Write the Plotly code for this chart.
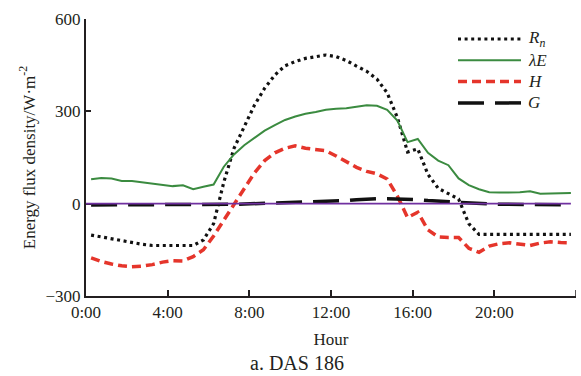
import plotly.graph_objects as go

# Half-hourly energy balance components (W·m-2), stamped at the middle of each half hour
hours = [0.25 + 0.5 * i for i in range(48)]

rn = [-102, -108, -115, -122, -128, -132, -136, -136, -136, -136, -136, -118,
      -65, 70, 180, 250, 320, 375, 418, 448, 462, 472, 478, 483,
      478, 465, 447, 430, 405, 360, 280, 168, 178, 95, 50, 33,
      15, -65, -100, -100, -100, -100, -100, -100, -100, -100, -100, -100]

le = [79, 83, 82, 74, 74, 70, 67, 63, 57, 60, 47, 55,
      62, 120, 160, 190, 215, 237, 255, 272, 283, 292, 298, 305,
      308, 310, 315, 320, 318, 305, 270, 200, 210, 165, 140, 125,
      82, 60, 47, 37, 36, 36, 37, 40, 32, 33, 35, 35]

h = [-176, -188, -196, -202, -205, -203, -198, -190, -185, -186, -172, -150,
     -105, -55, 0, 48, 100, 140, 165, 180, 188, 180, 176, 172,
     155, 135, 118, 105, 97, 80, 25, -45, -28, -85, -108, -110,
     -110, -145, -158, -138, -130, -127, -132, -136, -128, -124, -126, -127]

g = [-4, -4, -4, -4, -4, -4, -4, -4, -4, -4, -4, -4,
     -4, -3, -2, -1, 0, 0, 1, 2, 3, 4, 6, 7,
     8, 10, 13, 15, 16, 16, 15, 15, 13, 10, 8, 6,
     3, 2, 0, -1, -2, -2, -2, -3, -3, -3, -3, -4]

series_names = ["<i>R<sub>n</sub></i>", "<i>λE</i>", "<i>H</i>", "<i>G</i>"]

x_ticks = [0, 4, 8, 12, 16, 20]
x_tick_text = ["0:00", "4:00", "8:00", "12:00", "16:00", "20:00"]
x_end = 24
y_ticks = [-300, 0, 300, 600]

FONT = "Liberation Serif"
INK = "#231f20"

W, H_PX = 581, 376
M_L, M_R, M_T, M_B = 86, 5, 19, 80
PLOT_W = W - M_L - M_R
PLOT_H = H_PX - M_T - M_B


def px_x(px):
    return (px - M_L) / PLOT_W


def px_y(py):
    return (H_PX - M_B - py) / PLOT_H


styles = [
    dict(color="#111111", width=3.2, dash="3px,3.6px"),
    dict(color="#3b8b40", width=2),
    dict(color="#e5352b", width=3.5, dash="9px,5px"),
    dict(color="#111111", width=3.5, dash="26px,11px"),
]

fig = go.Figure()
for name, values, style in zip(series_names, [rn, le, h, g], styles):
    fig.add_trace(go.Scatter(x=hours, y=values, mode="lines", name=name,
                             line=style, showlegend=False))

# zero reference line
fig.add_shape(type="line", x0=0, x1=hours[-1], y0=0, y1=0, xref="x", yref="y",
              line=dict(color="#7030a0", width=1.8), layer="above")

# unlabeled closing tick at the right end of the time axis
fig.add_shape(type="line", x0=x_end, x1=x_end, y0=0, y1=6 / PLOT_H,
              xref="x", yref="paper", line=dict(color=INK, width=1.5))

# legend: line samples with labels, top right of the plot area
annotations = []
for i, (name, style) in enumerate(zip(series_names, styles)):
    yy = px_y(39 + i * 21.3)
    fig.add_shape(type="line", xref="paper", yref="paper",
                  x0=px_x(458), x1=px_x(521), y0=yy, y1=yy, line=style)
    annotations.append(dict(text=name, x=px_x(526), y=yy, xref="paper", yref="paper",
                            xanchor="left", yanchor="middle", showarrow=False,
                            font=dict(size=17, family=FONT, color=INK)))

annotations.append(dict(text="a. DAS 186", x=px_x(297), y=px_y(363),
                        xref="paper", yref="paper", xanchor="center", yanchor="middle",
                        showarrow=False, font=dict(size=20, family=FONT, color=INK)))

fig.update_layout(
    width=W, height=H_PX,
    margin=dict(l=M_L, r=M_R, t=M_T, b=M_B),
    paper_bgcolor="white", plot_bgcolor="white",
    font=dict(family=FONT, size=17, color=INK),
    showlegend=False,
    xaxis=dict(range=[0, x_end], tickvals=x_ticks, ticktext=x_tick_text,
               ticks="inside", ticklen=6, tickwidth=1.5, tickcolor=INK,
               showline=True, linecolor=INK, linewidth=2,
               showgrid=False, zeroline=False,
               title=dict(text="Hour", font=dict(size=17), standoff=12),
               tickfont=dict(size=17)),
    yaxis=dict(range=[-300, 600], tickvals=y_ticks,
               ticks="inside", ticklen=5, tickwidth=1.5, tickcolor=INK,
               showline=True, linecolor=INK, linewidth=2,
               showgrid=False, zeroline=False,
               title=dict(text="Energy flux density/W·m<sup>-2</sup>",
                          font=dict(size=17), standoff=6),
               tickfont=dict(size=17)),
    annotations=annotations,
)

fig.write_html("out.html")
